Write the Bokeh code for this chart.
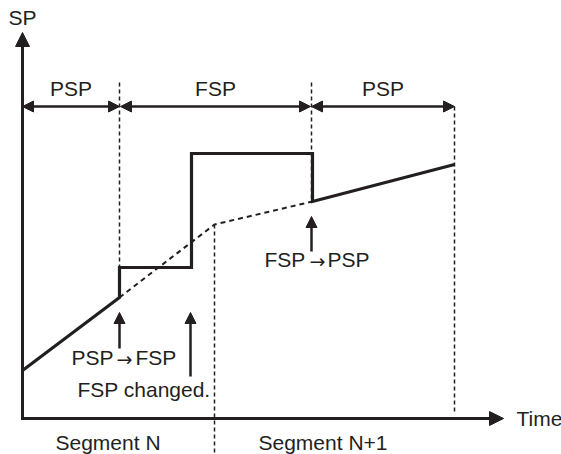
from bokeh.plotting import figure
from bokeh.models import Range1d, Arrow, NormalHead
from bokeh.core.properties import value
from bokeh.embed import file_html
from bokeh.resources import INLINE

# --- diagram data (reference pixel coordinates) ---
# axes
axis_origin = (22, 418)
axis_y_top = 32
axis_x_end = 503

# setpoint path (thick)
sp_x = [22, 119, 119, 191, 191, 312, 312, 454]
sp_y = [370, 297, 267, 267, 153, 153, 201, 164]

# program setpoint continuation (dotted)
psp_x = [119, 214, 312]
psp_y = [297, 224, 201]

# vertical dashed boundaries: x, y_top, y_bottom
vd_x = [119, 214, 311, 454]
vd_top = [82, 224, 82, 106]
vd_bot = [267, 454, 201, 414]

# span arrows at top
span_y = 106
span_x0 = [22, 120, 311]
span_x1 = [119, 310, 454]
span_labels = ["PSP", "FSP", "PSP"]
span_label_y = 88

# event arrows (upwards): x, y_start, y_end
ev_x = [119, 190, 311]
ev_y0 = [348, 376, 251]
ev_y1 = [312, 312, 216]

# annotation texts
ann_text = ["PSP", "FSP", "FSP changed.", "FSP", "PSP", "Segment N", "Segment N+1", "SP", "Time"]
ann_x = [71, 135, 77, 264, 327, 55, 258, 8, 516]
ann_y = [357, 357, 389, 259, 259, 442, 442, 17, 418]

# transition arrows inside annotations
tr_text = ["\u2192", "\u2192"]
tr_x = [124, 317]
tr_y = [358, 260]

FONT = "Liberation Sans"

p = figure(width=561, height=454, output_backend="svg", toolbar_location=None,
           x_range=Range1d(0, 561), y_range=Range1d(454, 0),
           min_border=0, outline_line_color=None)
p.axis.visible = False
p.grid.visible = False
p.background_fill_color = "white"

black = "#231f20"

# dashed verticals
p.segment(x0=vd_x, y0=vd_top, x1=vd_x, y1=vd_bot, line_color=black,
          line_width=1.5, line_dash="4 3")

# dotted PSP continuation
p.line(psp_x, psp_y, line_color=black, line_width=2, line_dash="5 4")

# setpoint path
p.line(sp_x, sp_y, line_color=black, line_width=3.2, line_join="miter")

# axes with arrows
p.add_layout(Arrow(end=NormalHead(size=14, fill_color=black, line_color=black),
                   x_start=axis_origin[0], y_start=axis_origin[1] + 1.5,
                   x_end=axis_origin[0], y_end=axis_y_top,
                   line_color=black, line_width=3))
p.add_layout(Arrow(end=NormalHead(size=14, fill_color=black, line_color=black),
                   x_start=axis_origin[0] - 1.5, y_start=axis_origin[1],
                   x_end=axis_x_end, y_end=axis_origin[1],
                   line_color=black, line_width=3))

# span double arrows
for a, b in zip(span_x0, span_x1):
    p.add_layout(Arrow(start=NormalHead(size=11, fill_color=black, line_color=black),
                       end=NormalHead(size=11, fill_color=black, line_color=black),
                       x_start=a, y_start=span_y, x_end=b, y_end=span_y,
                       line_color=black, line_width=2.5))

# event arrows
for x, y0, y1 in zip(ev_x, ev_y0, ev_y1):
    p.add_layout(Arrow(end=NormalHead(size=11, fill_color=black, line_color=black),
                       x_start=x, y_start=y0, x_end=x, y_end=y1,
                       line_color=black, line_width=2.5))

# span labels
span_cx = [(a + b) / 2 for a, b in zip(span_x0, span_x1)]
p.text(x=span_cx, y=[span_label_y] * 3, text=span_labels, text_align="center",
       text_baseline="middle", text_font=value(FONT), text_font_size="21px",
       text_color=black)

# annotations
p.text(x=ann_x, y=ann_y, text=ann_text, text_align="left",
       text_baseline="middle", text_font=value(FONT), text_font_size="21px",
       text_color=black)

# transition arrow glyphs
p.text(x=tr_x, y=tr_y, text=tr_text, text_align="center",
       text_baseline="middle", text_font=value("DejaVu Sans"), text_font_size="19px",
       text_color=black)

open("out.html", "w").write(file_html(p, INLINE))
